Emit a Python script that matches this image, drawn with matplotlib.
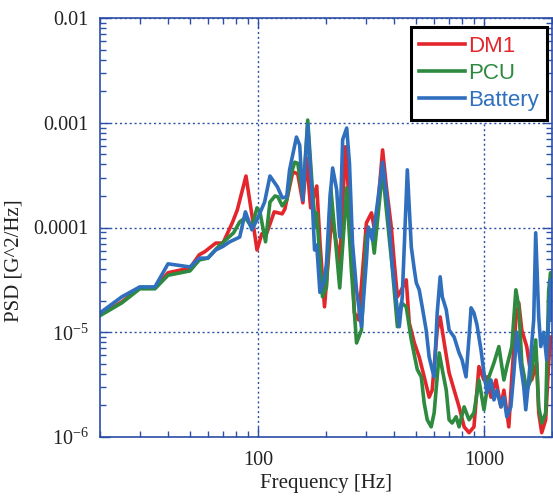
import matplotlib
matplotlib.use("Agg")
import matplotlib.pyplot as plt
from matplotlib.ticker import FixedLocator, FixedFormatter, LogLocator, NullFormatter

# DM1 (red)
dm1_freq = [20, 25, 30, 35, 40, 50, 55, 58, 65, 70, 77, 81, 88.5, 94, 99, 104, 109.5, 118,
            128, 131.5, 142.6, 150, 158, 164, 171, 182, 188, 197, 212, 223, 230, 244, 257,
            267, 279, 302, 318, 331, 356, 370, 389, 401, 414, 431, 453, 467, 492, 517, 544,
            572, 590, 621, 640, 667, 701, 738, 776, 817, 859, 903, 950, 1000, 1031, 1074,
            1130, 1189, 1225, 1288, 1328, 1384, 1426, 1470, 1546, 1626, 1711, 1747, 1801,
            1875, 1933, 1972]
dm1_psd = [1.47e-5, 1.95e-5, 2.65e-5, 2.65e-5, 3.7e-5, 4.1e-5, 5.5e-5, 5.85e-5, 7.1e-5, 7.1e-5,
           1.11e-4, 1.47e-4, 3.1e-4, 1.32e-4, 6.1e-5, 8.7e-5, 8.9e-5, 1.41e-4, 1.35e-4, 1.5e-4,
           3.4e-4, 3.25e-4, 1.72e-4, 4.6e-4, 1.54e-4, 2.49e-4, 7.3e-5, 1.75e-5, 1.26e-4, 6.8e-5,
           4.6e-5, 5.9e-4, 1.05e-4, 1.53e-5, 1.31e-5, 1.11e-4, 1.38e-4, 8.5e-5, 5.5e-4, 2.44e-4,
           1.01e-4, 4.6e-5, 2.18e-5, 2.54e-5, 3.16e-5, 1.23e-5, 7.9e-6, 5.8e-6, 3.75e-6, 2.4e-6,
           2.8e-6, 1.05e-5, 1.4e-5, 7.9e-6, 4.1e-6, 2.8e-6, 1.94e-6, 1.25e-6, 1.1e-6, 1.25e-6,
           4.7e-6, 3.5e-6, 3.75e-6, 2.4e-6, 3.5e-6, 1.94e-6, 2.8e-6, 1.25e-6, 3.75e-6, 1.31e-5,
           1.91e-5, 1.05e-5, 7.3e-6, 3.5e-6, 5.1e-6, 1.7e-6, 1.1e-6, 1.46e-6, 5.1e-6, 9.0e-6]

# PCU (green)
pcu_freq = [20, 25, 30, 35, 40, 50, 55, 60, 66, 78, 83, 88, 94, 99, 102, 108, 113, 119, 122.5,
            128, 134, 141, 145.5, 150, 158, 166, 175, 180, 182, 193, 201, 210, 230, 247, 259,
            273, 287, 302, 318, 327, 356, 370, 393, 414, 431, 453, 477, 507, 528, 544, 561,
            584, 602, 634, 654, 681, 701, 723, 753, 776, 817, 859, 903, 950, 1000, 1052, 1107,
            1164, 1225, 1262, 1328, 1384, 1426, 1470, 1546, 1610, 1694, 1747, 1801, 1875,
            1933, 1972, 2000]
pcu_psd = [1.44e-5, 1.91e-5, 2.6e-5, 2.6e-5, 3.5e-5, 3.85e-5, 4.9e-5, 5.1e-5, 6.4e-5, 8.9e-5,
           1.13e-4, 1.24e-4, 1.0e-4, 1.54e-4, 1.41e-4, 7.3e-5, 1.75e-4, 2.0e-4, 1.96e-4, 1.61e-4,
           1.83e-4, 3.4e-4, 4.2e-4, 4.1e-4, 1.96e-4, 1.06e-3, 1.96e-4, 1.01e-4, 1.38e-4, 2.18e-5,
           2.71e-5, 2.39e-4, 2.65e-5, 2.39e-4, 3.94e-5, 7.9e-6, 1.05e-5, 8.5e-5, 9.5e-5, 5.7e-5,
           3.55e-4, 1.47e-4, 4.1e-5, 1.13e-5, 1.91e-5, 1.75e-5, 8.45e-6, 4.4e-6, 3.75e-6, 2.1e-6,
           1.46e-6, 1.25e-6, 1.7e-6, 6.35e-6, 4.4e-6, 2.8e-6, 1.46e-6, 1.36e-6, 1.56e-6, 1.25e-6,
           1.94e-6, 1.46e-6, 1.7e-6, 3.5e-6, 1.82e-6, 3.75e-6, 5.1e-6, 7.3e-6, 3.5e-6, 4.7e-6,
           7.3e-6, 2.54e-5, 1.75e-5, 5.1e-6, 2.8e-6, 3.5e-6, 8.45e-6, 1.94e-6, 1.36e-6, 1.7e-6,
           2.5e-5, 3.7e-5, 2.0e-5]

# Battery (blue)
bat_freq = [20, 25, 30, 35, 40, 50, 55, 60, 65, 70, 75, 83, 88, 94, 100, 107, 113, 122, 128,
            134, 138, 148, 153, 158, 166, 173, 178, 182, 188, 197, 201, 208, 214, 223, 230,
            237, 247, 254, 262, 273, 287, 302, 308, 321, 338, 356, 374, 393, 422, 435, 458,
            477, 492, 502, 517, 533, 555, 572, 590, 602, 621, 640, 654, 681, 701, 738, 776,
            800, 833, 859, 877, 903, 931, 970, 1000, 1031, 1074, 1107, 1141, 1189, 1225, 1262,
            1315, 1356, 1397, 1456, 1500, 1531, 1578, 1660, 1694, 1747, 1784, 1838, 1895,
            1972, 2000]
bat_psd = [1.53e-5, 2.18e-5, 2.71e-5, 2.71e-5, 4.5e-5, 4.2e-5, 5.1e-5, 5.1e-5, 6.1e-5, 6.6e-5,
           7.3e-5, 8.1e-5, 1.41e-4, 9.5e-5, 1.24e-4, 1.75e-4, 3.1e-4, 2.44e-4, 1.92e-4, 1.96e-4,
           3.55e-4, 7.3e-4, 6.1e-4, 1.83e-4, 9.6e-4, 2.29e-4, 6.1e-5, 6.8e-5, 2.4e-5, 3.16e-5,
           4.6e-5, 1.83e-4, 3.7e-4, 2.29e-4, 8.1e-5, 6.9e-4, 8.9e-4, 4.1e-4, 7.1e-5, 2.54e-5,
           1.13e-5, 4.9e-5, 1.01e-4, 7.6e-5, 1.72e-4, 4.2e-4, 1.72e-4, 4.3e-5, 1.13e-5, 2.18e-5,
           3.55e-4, 6.5e-5, 3.94e-5, 2.96e-5, 2.54e-5, 1.75e-5, 1.05e-5, 5.8e-6, 4.4e-6, 3.75e-6,
           1.53e-5, 3.38e-5, 2.18e-5, 1.64e-5, 1.05e-5, 9.0e-6, 6.35e-6, 5.45e-6, 3.75e-6, 9.0e-6,
           1.71e-5, 1.53e-5, 1.18e-5, 6.8e-6, 4.1e-6, 2.64e-6, 3.5e-6, 2.26e-6, 2.8e-6, 1.94e-6,
           2.4e-6, 1.56e-6, 1.94e-6, 4.1e-6, 1.0e-5, 4.7e-6, 3.0e-6, 1.82e-6, 3.5e-6, 1.31e-5,
           8.9e-5, 1.4e-5, 7.3e-6, 1.0e-5, 5.45e-6, 3.16e-5, 1.31e-5]

labels = ['DM1', 'PCU', 'Battery']
colors = ['#e3262b', '#2d8a3e', '#2f6fbe']
ytick_vals = [1e-6, 1e-5, 1e-4, 1e-3, 1e-2]
ytick_text = [r'$\mathregular{10^{-6}}$', r'$\mathregular{10^{-5}}$', '0.0001', '0.001', '0.01']
xtick_vals = [100, 1000]
xtick_text = ['100', '1000']

plt.rcParams['font.family'] = 'Liberation Serif'
plt.rcParams['mathtext.fontset'] = 'custom'
plt.rcParams['mathtext.rm'] = 'Liberation Serif'

axis_blue = '#2b4ea6'

fig = plt.figure(figsize=(5.53, 4.97), dpi=100)
ax = fig.add_axes([100 / 553, 60 / 497, 452 / 553, 419 / 497])

series = [(dm1_freq, dm1_psd), (pcu_freq, pcu_psd), (bat_freq, bat_psd)]
for (f, p), lab, col in zip(series, labels, colors):
    ax.plot(f, p, color=col, lw=2.6, label=lab, solid_joinstyle='round')

ax.set_xscale('log')
ax.set_yscale('log')
ax.set_xlim(20, 2000)
ax.set_ylim(1e-6, 1e-2)

ax.xaxis.set_major_locator(FixedLocator(xtick_vals))
ax.xaxis.set_major_formatter(FixedFormatter(xtick_text))
ax.yaxis.set_major_locator(FixedLocator(ytick_vals))
ax.yaxis.set_major_formatter(FixedFormatter(ytick_text))
ax.xaxis.set_minor_locator(LogLocator(base=10, subs=range(2, 10)))
ax.yaxis.set_minor_locator(LogLocator(base=10, subs=range(2, 10)))
ax.xaxis.set_minor_formatter(NullFormatter())
ax.yaxis.set_minor_formatter(NullFormatter())

ax.tick_params(which='both', direction='in', top=True, right=True, colors=axis_blue,
               labelcolor='#222222', labelsize=14.5)
ax.tick_params(which='major', length=7, width=1)
ax.tick_params(which='minor', length=4, width=1)
ax.tick_params(axis='x', pad=10)
ax.tick_params(axis='y', pad=8)
for s in ax.spines.values():
    s.set_color(axis_blue)
    s.set_linewidth(1.2)

ax.grid(True, which='major', color=axis_blue, linestyle=(0, (1.5, 2)), lw=1)

ax.set_xlabel('Frequency [Hz]', fontsize=15, color='#222222')
ax.set_ylabel('PSD [G^2/Hz]', fontsize=15, color='#222222')
ax.xaxis.set_label_coords(0.5, -0.088)
ax.yaxis.set_label_coords(-0.17, 0.42)

leg = ax.legend(loc='upper right', bbox_to_anchor=(0.989, 0.978), borderaxespad=0,
                fancybox=False, edgecolor='black', framealpha=1,
                prop={'family': 'Liberation Sans', 'size': 16},
                handlelength=2.05, handletextpad=0.15, labelspacing=0.28,
                borderpad=0.38)
leg.get_frame().set_linewidth(2.2)
for txt, col in zip(leg.get_texts(), colors):
    txt.set_color(col)

fig.savefig('out.png', dpi=100)
